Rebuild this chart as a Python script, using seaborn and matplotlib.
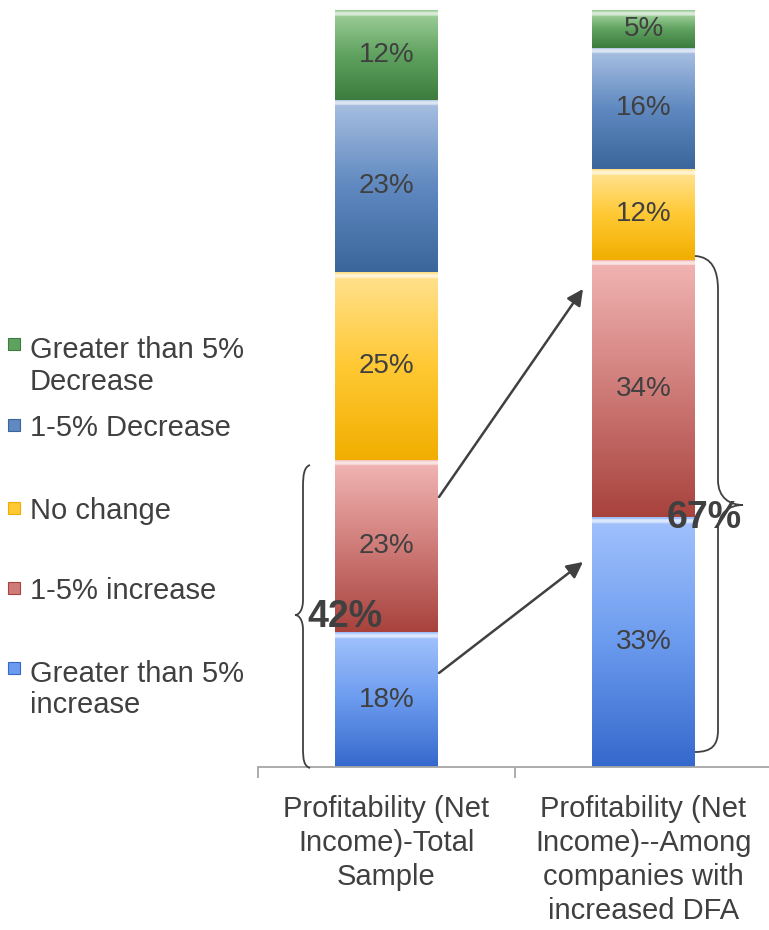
import numpy as np
import pandas as pd
import matplotlib
matplotlib.use("Agg")
import matplotlib.pyplot as plt
import seaborn as sns
from matplotlib.path import Path
from matplotlib.patches import PathPatch, Rectangle
from matplotlib.colors import to_rgb

# ---------------- data ----------------
categories = ["Profitability (Net\nIncome)-Total\nSample",
              "Profitability (Net\nIncome)--Among\ncompanies with\nincreased DFA"]
series = ["Greater than 5%\nincrease", "1-5% increase", "No change",
          "1-5% Decrease", "Greater than 5%\nDecrease"]
total_sample = [18, 23, 25, 23, 12]
dfa_companies = [33, 34, 12, 16, 5]
bracket_totals = ["42%", "67%"]

# gradient colours per series: (bottom/dark, middle, top/light)
series_colors = {
    "Greater than 5%\nincrease": ("#3568cc", "#6b9bee", "#9fc0fc"),
    "1-5% increase": ("#a8423d", "#cf7c79", "#f0b3b1"),
    "No change": ("#f2ae00", "#ffc934", "#ffe08a"),
    "1-5% Decrease": ("#3a669c", "#5f89c0", "#a5bde0"),
    "Greater than 5%\nDecrease": ("#3c7c3e", "#5fa25f", "#98ca94"),
}

W, H = 769, 930
sns.set_theme(style="white")
plt.rcParams['font.family'] = ['Liberation Sans', 'DejaVu Sans']
TXT = "#404040"

fig = plt.figure(figsize=(W / 100, H / 100), dpi=100)
ax = fig.add_axes([258 / W, (H - 767) / H, 514 / W, 757 / H])

df = pd.DataFrame({
    "category": np.repeat(categories, len(series)),
    "series": series * 2,
    "value": total_sample + dfa_companies,
})
df["share"] = df["value"] / df.groupby("category")["value"].transform("sum") * 100
df["bottom"] = df.groupby("category")["share"].cumsum() - df["share"]

px_per_unit = 757 / 100.0


def gradient_img(cols, height_units):
    n = 256
    dark, mid, light = [np.array(to_rgb(c)) for c in cols]
    t = np.linspace(0, 1, n)
    hf = min(0.35, 6 / (height_units * px_per_unit))
    img = np.zeros((n, 1, 3))
    for i, tt in enumerate(t):
        if tt < 0.5:
            c = dark + (mid - dark) * (tt / 0.5)
        elif tt < 1 - hf:
            c = mid + (light - mid) * ((tt - 0.5) / (0.5 - hf))
        else:
            s = (tt - (1 - hf)) / hf
            c = light + (np.array([1, 1, 1]) - light) * (0.65 * np.sin(np.pi * min(s * 1.2, 1)) ** 0.5)
        img[i, 0] = np.clip(c, 0, 1)
    return img


for s in series:
    sub = df[df["series"] == s]
    cols = series_colors[s]
    n_before = len(ax.patches)
    sns.barplot(data=sub, x="category", y="share", order=categories,
                bottom=sub["bottom"].to_numpy(), width=0.4, color=cols[1],
                edgecolor="none", linewidth=0, errorbar=None, ax=ax)
    new_patches = ax.patches[n_before:]
    for p in new_patches:
        x0, y0 = p.get_x(), p.get_y()
        w, h = p.get_width(), p.get_height()
        im = ax.imshow(gradient_img(cols, h), extent=[x0, x0 + w, y0, y0 + h],
                       origin="lower", aspect="auto", interpolation="bilinear",
                       zorder=2)
        im.set_clip_path(p)
    ax.bar_label(ax.containers[-1], labels=[f"{v}%" for v in sub["value"]],
                 label_type="center", fontsize=20, color=TXT, zorder=5)

ax.set_xlim(-0.5, 1.5)
ax.set_ylim(0, 100)
ax.set_yticks([])
ax.set_xlabel("")
ax.set_ylabel("")
for sp in ["left", "top", "right"]:
    ax.spines[sp].set_visible(False)
ax.spines["bottom"].set_color("#a6a6a6")
ax.spines["bottom"].set_linewidth(1.3)
ax.set_xticks([0, 1])
ax.set_xticklabels(categories)
ax.set_xticks([-0.5, 0.5, 1.5], minor=True)
ax.tick_params(axis="x", which="major", length=0, pad=20, labelsize=21, labelcolor=TXT)
ax.tick_params(axis="x", which="minor", length=8, width=1.3, color="#a6a6a6", direction="out", bottom=True)
for lbl in ax.get_xticklabels():
    lbl.set_linespacing(1.28)


# ---------------- annotations ----------------
def fpt(x, y):
    return (x / W, 1 - y / H)


def brace(points_codes):
    verts = [fpt(*p) for p, _ in points_codes]
    codes = [c for _, c in points_codes]
    pp = PathPatch(Path(verts, codes), facecolor="none", edgecolor=TXT, lw=1.3,
                   transform=fig.transFigure, zorder=4)
    fig.add_artist(pp)


M, L, C = Path.MOVETO, Path.LINETO, Path.CURVE4
# left brace around bar 1 lower segments
brace([((310, 465), M), ((304, 467), C), ((303, 475), C), ((303, 487), C),
       ((303, 600), L), ((303, 610), C), ((299, 615), C), ((295, 615), C),
       ((299, 615), C), ((303, 620), C), ((303, 630), C),
       ((303, 748), L), ((303, 760), C), ((304, 766), C), ((310, 768), C)])
# right brace around bar 2 lower segments
brace([((695, 256), M), ((712, 257), C), ((718, 270), C), ((718, 290), C),
       ((718, 480), L), ((718, 498), C), ((730, 505), C), ((743, 505), C),
       ((730, 505), C), ((718, 512), C), ((718, 530), C),
       ((718, 730), L), ((718, 745), C), ((712, 752), C), ((695, 752), C)])

for (xs, ys), (xe, ye) in [((439, 497), (583, 289)), ((439, 673), (583, 562))]:
    ax.annotate("", xy=(xe, H - ye), xytext=(xs, H - ys),
                xycoords="figure pixels", textcoords="figure pixels",
                arrowprops=dict(arrowstyle="-|>", color=TXT, lw=1.8,
                                mutation_scale=24, shrinkA=0, shrinkB=0),
                zorder=6)

fig.text(*fpt(345, 617), bracket_totals[0], fontsize=27, fontweight="bold",
         color=TXT, ha="center", va="center", zorder=7)
fig.text(*fpt(704, 518), bracket_totals[1], fontsize=27, fontweight="bold",
         color=TXT, ha="center", va="center", zorder=7)

# ---------------- legend (top entry = top of stack) ----------------
legend_text_y = [689.5, 591, 511, 428, 366]
legend_mark_y = [668, 588, 508, 425, 344]
for s, ty, my in zip(series, legend_text_y, legend_mark_y):
    cols = series_colors[s]
    fig.add_artist(Rectangle(fpt(8, my + 6), 12 / W, 12 / H, transform=fig.transFigure,
                             facecolor=cols[1], edgecolor=cols[0], lw=0.8))
    fig.text(*fpt(30, ty), s, fontsize=21, color=TXT, ha="left", va="center",
             linespacing=1.15)

fig.savefig("out.png", dpi=100)
